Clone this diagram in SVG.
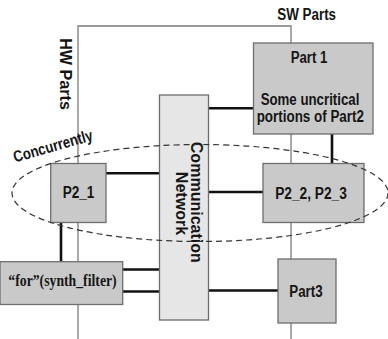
<svg xmlns="http://www.w3.org/2000/svg" width="388" height="339" viewBox="0 0 388 339">
<style>
.bd{fill:none;stroke:#7a7a7a;stroke-width:1.3}
.box{fill:#c9c9c9;stroke:#6e6e6e;stroke-width:1.3}
.net{fill:#e6e6e6;stroke:#6e6e6e;stroke-width:1.3}
.th{stroke:#111;stroke-width:2.6;fill:none}
.t{font-family:"Liberation Sans",Arial,sans-serif;font-weight:bold;font-size:16px;fill:#151515;text-anchor:middle}
.s{font-family:"Liberation Serif","Times New Roman",serif;font-weight:bold;font-size:16px;fill:#151515;text-anchor:middle}
.st{text-anchor:start}
</style>
<rect width="388" height="339" fill="#ffffff"/>
<g id="boundary">
<path class="bd" d="M78,339 V26 H291 V339"/>
<text class="t" x="306.7" y="19.5" textLength="58.7" lengthAdjust="spacingAndGlyphs">SW Parts</text>
<text class="t" transform="translate(59.5,74) rotate(90)" x="0" y="0" textLength="71.7" lengthAdjust="spacingAndGlyphs">HW Parts</text>
</g>
<g id="connectors">
<line class="th" x1="208" y1="108.3" x2="254" y2="108.3"/>
<line class="th" x1="208" y1="192" x2="263" y2="192"/>
<line class="th" x1="208" y1="290.5" x2="278" y2="290.5"/>
<line class="th" x1="106" y1="173.3" x2="160" y2="173.3"/>
<line class="th" x1="122" y1="269.5" x2="160" y2="269.5"/>
<line class="th" x1="122" y1="291.5" x2="160" y2="291.5"/>
<line class="th" x1="332" y1="134" x2="332" y2="164"/>
<line class="th" x1="61" y1="222" x2="61" y2="262"/>
</g>
<g id="network">
<rect class="net" x="159.5" y="95" width="49" height="225"/>
<text class="t" transform="translate(190.5,202.3) rotate(90)" textLength="121" lengthAdjust="spacingAndGlyphs">Communication</text>
<text class="t" transform="translate(175.5,203.5) rotate(90)" textLength="63.3" lengthAdjust="spacingAndGlyphs">Network</text>
</g>
<g id="part1">
<rect class="box" x="253.5" y="43" width="119.5" height="91"/>
<text class="t" x="309" y="62.7" textLength="36.7" lengthAdjust="spacingAndGlyphs">Part 1</text>
<text class="t" x="310" y="105" font-size="17" textLength="98.7" lengthAdjust="spacingAndGlyphs">Some uncritical</text>
<text class="t" x="310.3" y="121.5" font-size="17" textLength="107.3" lengthAdjust="spacingAndGlyphs">portions of Part2</text>
</g>
<g id="p2_23">
<rect class="box" x="263" y="163.5" width="101" height="59"/>
<text class="t" x="311" y="199" textLength="71.7" lengthAdjust="spacingAndGlyphs">P2_2, P2_3</text>
</g>
<g id="part3">
<rect class="box" x="278" y="259" width="58" height="64"/>
<text class="t" x="306" y="296.7" textLength="33.3" lengthAdjust="spacingAndGlyphs">Part3</text>
</g>
<g id="p2_1">
<rect class="box" x="50.7" y="163.5" width="55.3" height="59"/>
<text class="t" x="78.5" y="198.3" textLength="31.7" lengthAdjust="spacingAndGlyphs">P2_1</text>
</g>
<g id="for">
<rect class="box" x="0" y="261.7" width="122.7" height="42.8"/>
<text class="s" x="62.5" y="285.5" textLength="108.3" lengthAdjust="spacingAndGlyphs">“for”(synth_filter)</text>
</g>
<g id="concurrently">
<ellipse cx="200" cy="193" rx="188" ry="48.5" fill="none" stroke="#333" stroke-width="1.2" stroke-dasharray="6,4"/>
<text class="t st" x="15" y="162.5" transform="rotate(-16 15 162.5)" textLength="82" lengthAdjust="spacingAndGlyphs">Concurrently</text>
</g>
</svg>
